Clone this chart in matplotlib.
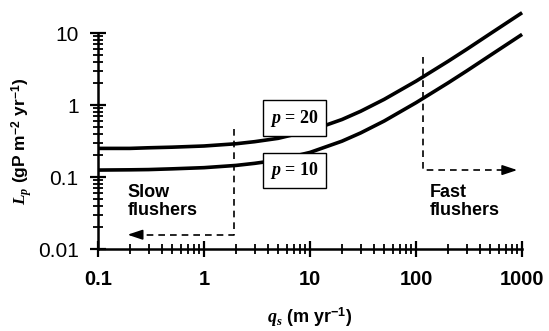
import matplotlib
matplotlib.use("Agg")
import matplotlib.pyplot as plt
from matplotlib.ticker import LogLocator, NullFormatter, FixedLocator, FixedFormatter

plt.rcParams['font.family'] = ['Liberation Sans', 'DejaVu Sans']
plt.rcParams['mathtext.fontset'] = 'custom'
plt.rcParams['mathtext.it'] = 'Liberation Serif:italic:bold'
plt.rcParams['mathtext.rm'] = 'Liberation Serif:bold'
plt.rcParams['mathtext.sf'] = 'Liberation Sans:bold'

# flushing rate qs (m/yr) and areal P loading Lp
qs = [0.1, 0.2, 0.3, 0.5, 1, 2, 3, 5, 10, 20, 30, 50, 100, 200, 300, 500, 1000]
lp_p20 = [0.25, 0.25, 0.255, 0.26, 0.27, 0.29, 0.31, 0.345, 0.44, 0.63, 0.82,
          1.2, 2.15, 4.05, 5.95, 9.8, 19.2]
lp_p10 = [0.125, 0.126, 0.127, 0.13, 0.135, 0.145, 0.155, 0.172, 0.22, 0.315,
          0.41, 0.6, 1.08, 2.03, 2.98, 4.9, 9.6]

# flushing class boundaries (dashed guides)
slow_x = [1.9, 1.9, 0.26]
slow_y = [0.47, 0.0158, 0.0158]
slow_tip = (0.19, 0.0158)
fast_x = [116, 116, 680]
fast_y = [4.6, 0.125, 0.125]
fast_tip = (900, 0.125)

fig = plt.figure(figsize=(5.49, 3.31), dpi=100)
ax = fig.add_axes([0.1785, 0.2477, 0.7725, 0.6523])

ax.plot(qs, lp_p20, color='black', lw=2.6, clip_on=False, solid_capstyle='butt')
ax.plot(qs, lp_p10, color='black', lw=2.6, clip_on=False, solid_capstyle='butt')

for xs, ys, tip in [(slow_x, slow_y, slow_tip), (fast_x, fast_y, fast_tip)]:
    ax.plot(xs, ys, color='black', lw=1.2, ls=(0, (4, 3)))
    ax.annotate('', xy=tip, xytext=(xs[-1], ys[-1]),
                arrowprops=dict(arrowstyle='-|>,head_length=0.9,head_width=0.3',
                                color='black', lw=1.2, shrinkA=0, shrinkB=0))

box = dict(boxstyle='square,pad=0.4', fc='white', ec='black', lw=1.0)
ax.text(7.1, 0.66, '$p$ = 20', ha='center', va='center', fontsize=13,
        family='Liberation Serif', fontweight='bold', bbox=box)
ax.text(7.1, 0.124, '$p$ = 10', ha='center', va='center', fontsize=13,
        family='Liberation Serif', fontweight='bold', bbox=box)

ax.text(0.19, 0.046, 'Slow\nflushers', ha='left', va='center', fontsize=13,
        fontweight='bold', linespacing=1.1)
ax.text(135, 0.046, 'Fast\nflushers', ha='left', va='center', fontsize=13,
        fontweight='bold', linespacing=1.1)

ax.set_xscale('log')
ax.set_yscale('log')
ax.set_xlim(0.1, 1000)
ax.set_ylim(0.01, 10)

for s in ['top', 'right']:
    ax.spines[s].set_visible(False)
for s in ['left', 'bottom']:
    ax.spines[s].set_linewidth(1.8)

ax.xaxis.set_major_locator(FixedLocator([0.1, 1, 10, 100, 1000]))
ax.xaxis.set_major_formatter(FixedFormatter(['0.1', '1', '10', '100', '1000']))
ax.yaxis.set_major_locator(FixedLocator([0.01, 0.1, 1, 10]))
ax.yaxis.set_major_formatter(FixedFormatter(['0.01', '0.1', '1', '10']))
for a in [ax.xaxis, ax.yaxis]:
    a.set_minor_locator(LogLocator(base=10, subs=range(2, 10)))
    a.set_minor_formatter(NullFormatter())

ax.tick_params(which='major', direction='inout', length=12, width=1.6)
ax.tick_params(which='minor', direction='inout', length=7, width=1.3)
ax.tick_params(axis='x', which='major', labelsize=14.5, pad=9)
ax.tick_params(axis='y', which='major', labelsize=15, pad=8)
for lab in ax.get_xticklabels():
    lab.set_fontweight('bold')

ax.set_xlabel('$q_s$ (m yr$^{\\mathsf{-1}}$)', fontsize=13, fontweight='bold', labelpad=12)
ax.set_ylabel('$L_p$ (gP m$^{\\mathsf{-2}}$ yr$^{\\mathsf{-1}}$)', fontsize=12.5,
              fontweight='bold', labelpad=3)

fig.savefig('out.png', dpi=100)
